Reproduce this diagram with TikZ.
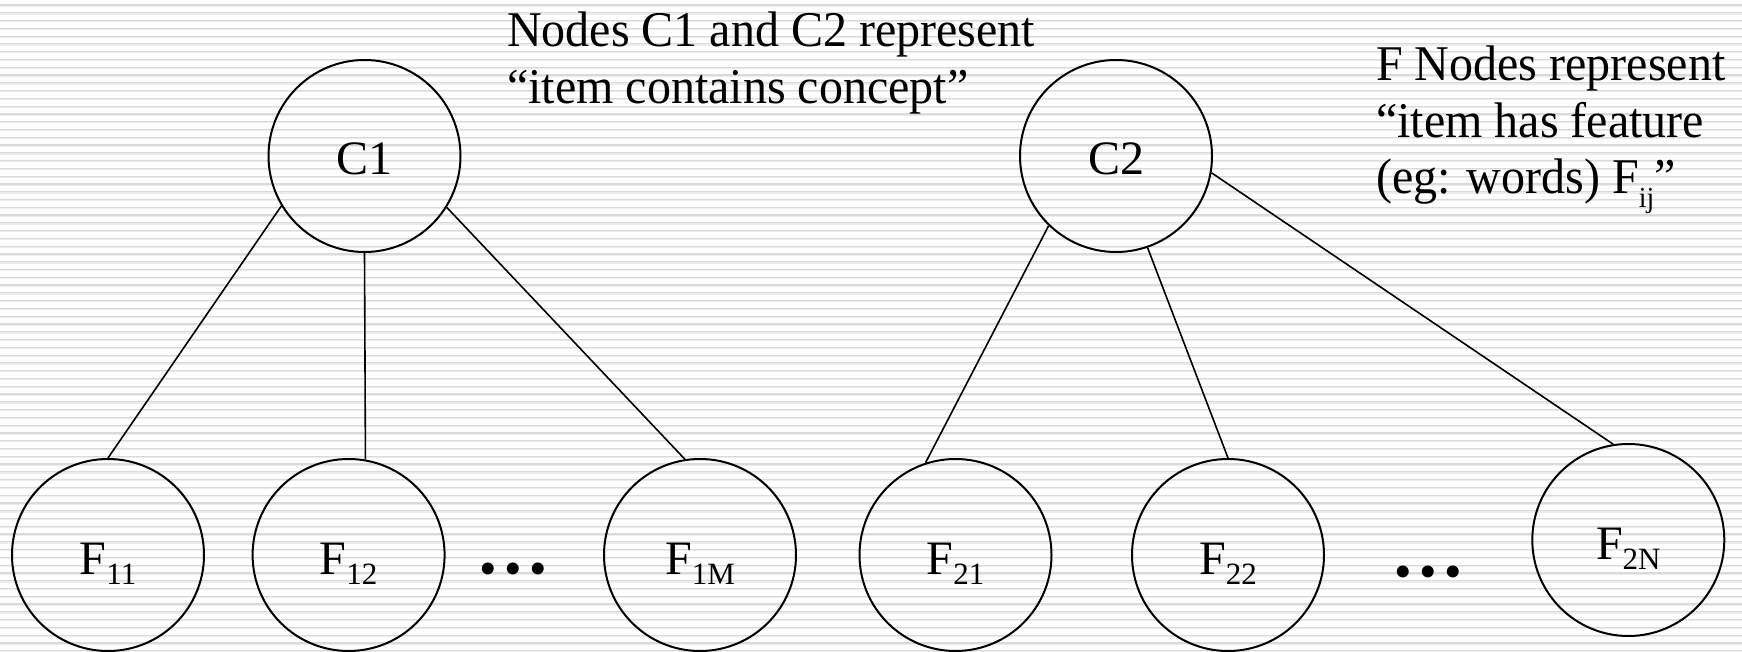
\documentclass[tikz,border=0pt]{standalone}
\usepackage{fontspec}
\setmainfont{Liberation Serif}
\newfontfamily\annofont[FakeStretch=0.96]{Liberation Serif}
\newcommand\fsub[1]{\raisebox{-10pt}{\fontsize{31}{31}\selectfont #1}}
\definecolor{bgdark}{RGB}{218,218,218}
\definecolor{bglight}{RGB}{236,236,236}
\begin{document}
\begin{tikzpicture}[x=1pt,y=-1pt,
  circ/.style={draw, circle, line width=2pt, minimum size=192pt, inner sep=0pt,
    text height=38pt, text depth=0pt, font=\fontsize{48}{48}\selectfont},
  conn/.style={line width=1.6pt},
  anno/.style={anchor=base west, inner sep=0pt, font=\annofont\fontsize{50}{56}\selectfont},
  dotsty/.style={anchor=base, inner sep=0pt, font=\fontsize{50}{50}\selectfont},
  bgA/.style={line width=1.2pt, draw=bgdark},
  bgB/.style={line width=1.2pt, draw=bglight}]
\useasboundingbox (0,0) rectangle (1742,652);
\fill[white] (0,0) rectangle (1742,652);
\foreach \k in {0,...,83} {
  \draw[bgA] (0,{5.0+7.78*\k}) -- (1742,{5.0+7.78*\k});
  \draw[bgB] (0,{6.2+7.78*\k}) -- (1742,{6.2+7.78*\k});
}
% nodes
\node[circ] (C1) at (364.5,156) {C1};
\node[circ] (C2) at (1116,156) {C2};
\node[circ] (F11) at (108,555) {F\fsub{11}};
\node[circ] (F12) at (348.6,555) {F\fsub{12}};
\node[circ] (F1M) at (700,555) {F\fsub{1M}};
\node[circ] (F21) at (955.5,555) {F\fsub{21}};
\node[circ] (F22) at (1228,555) {F\fsub{22}};
\node[circ] (F2N) at (1628.3,540) {F\fsub{2N}};
% dots
\node[dotsty] (D1) at (513.5,585) {•\hspace{7.5pt}•\hspace{7.5pt}•};
\node[dotsty] (D2) at (1428.5,588) {•\hspace{7.5pt}•\hspace{7.5pt}•};
% connectors
\draw[conn] (C1.211) -- (F11.north);
\draw[conn] (C1.south) -- (F12.80.5);
\draw[conn] (C1.328.7) -- (F1M.99.4);
\draw[conn] (C2.226.6) -- (F21.108.3);
\draw[conn] (C2.289) -- (F22.north);
\draw[conn] (C2.350.4) -- (F2N.99.5);
% annotations
\node[anno] (A1) at (507,47) {Nodes C1  and C2 represent};
\node[anno] (A2) at (507,104) {“item contains concept”};
\node[anno] (B1) at (1376,81) {F Nodes represent};
\node[anno] (B2) at (1376,138) {“item has feature};
\node[anno] (B3) at (1376,194) {(eg: words) F\raisebox{-14pt}{\fontsize{29}{29}\selectfont ij}”};
\end{tikzpicture}
\end{document}
